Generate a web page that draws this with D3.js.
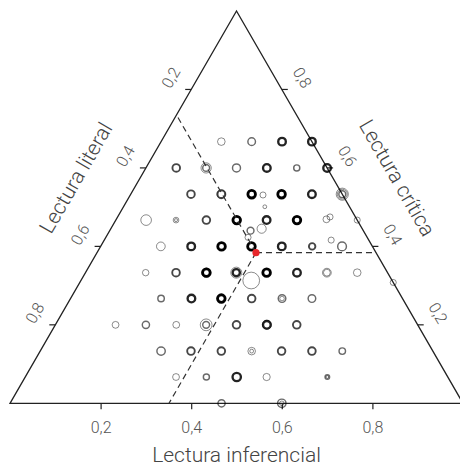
<!DOCTYPE html>
<html><head><meta charset="utf-8">
<script src="https://cdn.jsdelivr.net/npm/d3@7"></script>
<style>html,body{margin:0;padding:0;background:#fff;} svg{display:block;font-family:Roboto,"Noto Sans",sans-serif;}</style>
</head><body><svg id="chart" width="460" height="466"></svg>
<script>
// ---- data ----
const axisTicks = [0.2, 0.4, 0.6, 0.8];
const titleLiteral = "Lectura literal";
const titleInferencial = "Lectura inferencial";
const titleCritica = "Lectura crítica";

// each entry = one plotted circle (students = number of overlapping students, sizeValue = relative marker size)
const literal = [
  0.2,0.133,0.067,0,
  0.333,0.267,0.267,0.2,0.133,0.067,0,
  0.333,0.267,0.267,0.2,0.133,0.067,0,0,0,
  0.467,0.4,0.4,0.333,0.267,0.2,0.133,0,
  0.467,0.4,0.333,0.267,0.2,0.133,0.067,
  0.533,0.467,0.4,0.4,0.333,0.333,0.267,0.2,0.133,0.133,0.067,
  0.533,0.467,0.4,0.333,0.267,0.267,0.2,
  0.667,0.6,0.533,0.467,0.467,0.4,0.333,0.333,0.267,
  0.6,0.533,0.467,0.4,0.4,0.333,0.267,0.2,
  0.6,0.533,0.467,0.4,0.267,0.267,
  0.533,0.4,0.4,
  0.176,0.187,0.067,0.056,0.083,0.222,0.249,0.263,0.311,0
];
const inferencial = [
  0.133,0.2,0.267,0.333,
  0.067,0.133,0.133,0.2,0.267,0.333,0.4,
  0.133,0.2,0.2,0.267,0.333,0.4,0.467,0.467,0.467,
  0.067,0.133,0.133,0.2,0.267,0.333,0.4,0.533,
  0.133,0.2,0.267,0.333,0.4,0.467,0.533,
  0.133,0.2,0.267,0.267,0.333,0.333,0.4,0.467,0.533,0.533,0.6,
  0.2,0.267,0.333,0.4,0.467,0.467,0.533,
  0.133,0.2,0.267,0.333,0.333,0.4,0.467,0.467,0.533,
  0.267,0.333,0.4,0.467,0.467,0.533,0.6,0.667,
  0.333,0.4,0.467,0.533,0.667,0.667,
  0.467,0.6,0.6,
  0.293,0.312,0.464,0.469,0.501,0.333,0.311,0.314,0.376,0.692
];
const critica = [
  0.667,0.667,0.667,0.667,
  0.6,0.6,0.6,0.6,0.6,0.6,0.6,
  0.533,0.533,0.533,0.533,0.533,0.533,0.533,0.533,0.533,
  0.467,0.467,0.467,0.467,0.467,0.467,0.467,0.467,
  0.4,0.4,0.4,0.4,0.4,0.4,0.4,
  0.333,0.333,0.333,0.333,0.333,0.333,0.333,0.333,0.333,0.333,0.333,
  0.267,0.267,0.267,0.267,0.267,0.267,0.267,
  0.2,0.2,0.2,0.2,0.2,0.2,0.2,0.2,0.2,
  0.133,0.133,0.133,0.133,0.133,0.133,0.133,0.133,
  0.067,0.067,0.067,0.067,0.067,0.067,
  0,0,0,
  0.531,0.501,0.469,0.475,0.416,0.445,0.44,0.423,0.313,0.308
];
const students = [
  1,2,4,4,
  3,2,1,2,4,2,4,
  3,3,1,5,5,4,2,1,1,
  1,1,1,3,5,4,5,1,
  1,4,5,5,4,3,2,
  1,3,5,1,4,1,5,4,1,1,1,
  2,4,5,3,2,1,2,
  1,2,1,2,1,3,4,1,3,
  2,3,3,1,1,3,3,2,
  1,2,4,1,2,1,
  2,2,1,
  1,1,1,1,1,1,2,1,1,1
];
const sizeValue = [
  1,1,1,1,
  1,0.9,1.35,1.05,1,0.8,1,
  1,1,1.2,1,1,1,0.9,1.3,1.6,
  1.4,0.75,0.4,1,1,1,1,0.8,
  1.15,1,1,1,1,0.85,1.15,
  0.85,1,1,1.2,0.95,1.45,1,1,1.15,0.9,1,
  0.85,1,1,1,1,0.6,1,
  0.9,0.95,0.9,0.9,1.55,1,1,1.2,1,
  1.1,1,1,1,0.5,1,1,0.85,
  0.9,0.8,1.1,0.95,0.6,0.35,
  0.95,1.1,0.6,
  0.8,0.5,0.9,0.8,0.8,1.2,0.9,0.8,2.2,0.8
];
// mean point (literal, inferencial, critica)
const meanPoint = [0.265, 0.351, 0.384];

// ---- drawing ----
const svg = d3.select("#chart");
const side = 453, x0 = 10, y0 = 403.3;
const h = side * Math.sqrt(3) / 2;
const x = d3.scaleLinear().domain([0, 1]).range([x0, x0 + side]);
const y = d3.scaleLinear().domain([0, 1]).range([y0, y0 - h]);
const px = (inf, cri) => x(inf + cri / 2);
const py = cri => y(cri);
const rScale = d3.scaleLinear().domain([0, 1]).range([0, 3.8]);
const opScale = d3.scaleLinear().domain([1, 5]).range([0.45, 1]).clamp(true);
const swScale = d3.scaleLinear().domain([1, 5]).range([1, 2.8]).clamp(true);
const fmt = d => d3.format(".1f")(d).replace(".", ",");

// triangle
const verts = [[px(0, 0), py(0)], [px(1, 0), py(0)], [px(0, 1), py(1)]];
svg.append("path")
  .attr("d", d3.line()(verts) + "Z")
  .attr("fill", "none").attr("stroke", "#222").attr("stroke-width", 1.3);

// bottom axis (inferencial)
const gB = svg.append("g").attr("transform", `translate(0,${y0})`)
  .call(d3.axisBottom(x).tickValues(axisTicks).tickSize(6).tickPadding(12).tickFormat(fmt));
gB.select(".domain").remove();
gB.selectAll(".tick line").attr("stroke", "#222").attr("stroke-width", 1.2);
gB.selectAll(".tick text").attr("font-size", 16).attr("font-weight", 300)
  .attr("fill", "#555").attr("font-family", "Roboto");

const nL = [-Math.cos(Math.PI / 6), -0.5], nR = [Math.cos(Math.PI / 6), -0.5];
const off = 23.5;
// left axis (literal): 0 at apex, 1 at bottom-left
axisTicks.forEach(v => {
  const ex = px(0, 1 - v), ey = py(1 - v);
  svg.append("line").attr("x1", ex).attr("y1", ey).attr("x2", ex - 6).attr("y2", ey)
    .attr("stroke", "#222").attr("stroke-width", 1.2);
  svg.append("text").attr("transform", `translate(${ex + nL[0] * off},${ey + nL[1] * off}) rotate(-60)`)
    .attr("text-anchor", "middle").attr("dominant-baseline", "central")
    .attr("font-size", 16).attr("font-weight", 300).attr("fill", "#555").text(fmt(v));
});
// right axis (critica): 1 at apex, 0 at bottom-right
axisTicks.forEach(v => {
  const ex = px(1 - v, v), ey = py(v);
  svg.append("line").attr("x1", ex).attr("y1", ey).attr("x2", ex + 6).attr("y2", ey)
    .attr("stroke", "#222").attr("stroke-width", 1.2);
  svg.append("text").attr("transform", `translate(${ex + nR[0] * off},${ey + nR[1] * off}) rotate(60)`)
    .attr("text-anchor", "middle").attr("dominant-baseline", "central")
    .attr("font-size", 16).attr("font-weight", 300).attr("fill", "#555").text(fmt(v));
});

// axis titles
svg.append("text").attr("transform", "translate(76,178) rotate(-60)")
  .attr("text-anchor", "middle").attr("dominant-baseline", "central")
  .attr("font-size", 21).attr("font-weight", 300).attr("fill", "#444").text(titleLiteral);
svg.append("text").attr("transform", "translate(397,178) rotate(60)")
  .attr("text-anchor", "middle").attr("dominant-baseline", "central")
  .attr("font-size", 21).attr("font-weight", 300).attr("fill", "#444").text(titleCritica);
svg.append("text").attr("x", x(0.5)).attr("y", 462)
  .attr("text-anchor", "middle")
  .attr("font-size", 21).attr("font-weight", 300).attr("fill", "#444").text(titleInferencial);

// points
const pts = literal.map((l, i) => ({l, inf: inferencial[i], c: critica[i], n: students[i], s: sizeValue[i]}));
svg.append("g").selectAll("circle").data(pts).join("circle")
  .attr("cx", d => px(d.inf, d.c)).attr("cy", d => py(d.c))
  .attr("r", d => rScale(d.s))
  .attr("fill", "none").attr("stroke", "#000")
  .attr("stroke-opacity", d => opScale(d.n))
  .attr("stroke-width", d => swScale(d.n));

// guide lines from mean
const [mL, mI, mC] = meanPoint;
const mx = px(mI, mC), my = py(mC);
const ends = [
  [px(1 - mC, mC), py(mC)],          // constant critica -> right edge
  [px(0, 1 - mL), py(1 - mL)],       // constant literal -> left edge
  [px(mI, 0), py(0)]                 // constant inferencial -> bottom edge
];
ends.forEach(e => {
  svg.append("line").attr("x1", mx).attr("y1", my).attr("x2", e[0]).attr("y2", e[1])
    .attr("stroke", "#333").attr("stroke-width", 1.2).attr("stroke-dasharray", "6,4");
});
svg.append("circle").attr("cx", mx).attr("cy", my).attr("r", 3.6).attr("fill", "#e8262b");
</script></body></html>
